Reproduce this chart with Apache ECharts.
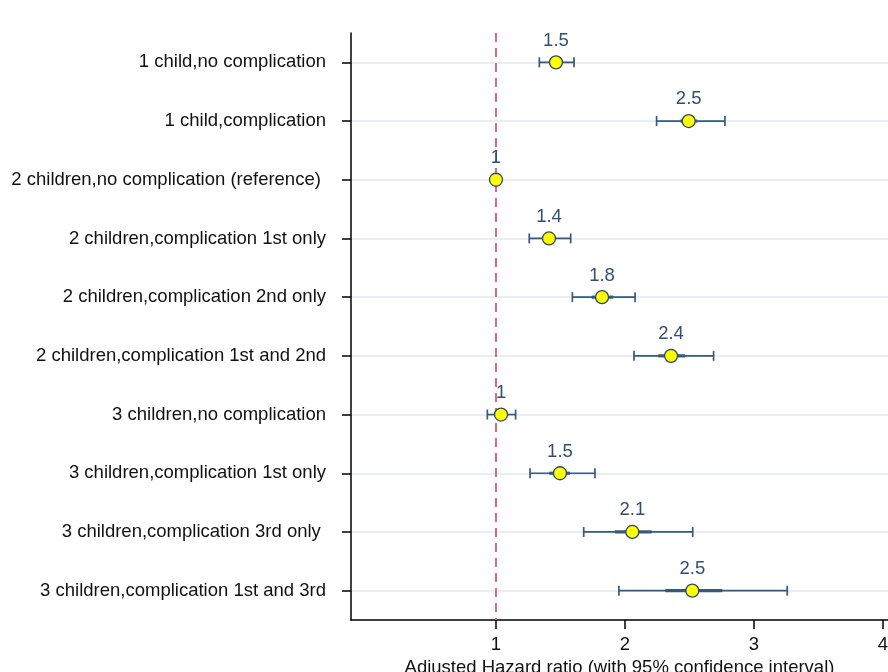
<!DOCTYPE html>
<html>
<head>
<meta charset="utf-8">
<script src="https://cdn.jsdelivr.net/npm/echarts@6/dist/echarts.min.js"></script>
<style>
html,body{margin:0;padding:0;background:#fff;}
#chart{width:888px;height:672px;}
</style>
</head>
<body>
<div id="chart"></div>
<script>
// ---- data ----
var categories = [
  '1 child,no complication',
  '1 child,complication',
  '2 children,no complication (reference) ',
  '2 children,complication 1st only',
  '2 children,complication 2nd only',
  '2 children,complication 1st and 2nd',
  '3 children,no complication',
  '3 children,complication 1st only',
  '3 children,complication 3rd only ',
  '3 children,complication 1st and 3rd'
];
var hr      = [1.465, 2.494, 1.000, 1.411, 1.822, 2.357, 1.039, 1.496, 2.057, 2.522];
var ciLow   = [1.336, 2.245, null,  1.258, 1.592, 2.070, 0.933, 1.264, 1.680, 1.953];
var ciHigh  = [1.605, 2.775, null,  1.579, 2.078, 2.687, 1.152, 1.767, 2.525, 3.258];
var innerLow  = [1.430, 2.430, null, 1.370, 1.742, 2.258, 1.010, 1.413, 1.922, 2.312];
var innerHigh = [1.500, 2.560, null, 1.450, 1.909, 2.465, 1.070, 1.574, 2.207, 2.754];
var pointLabels = ['1.5', '2.5', '1', '1.4', '1.8', '2.4', '1', '1.5', '2.1', '2.5'];
var xTicks = [1, 2, 3, 4];
var referenceValue = 1;

var FONT = 'Liberation Sans, Arial, sans-serif';
var NAVY = '#355a7e';

var chart = echarts.init(document.getElementById('chart'), null, {renderer: 'canvas'});

var barData = [];
var ptData = [];
for (var i = 0; i < categories.length; i++) {
  if (ciLow[i] != null) barData.push([ciLow[i], ciHigh[i], innerLow[i], innerHigh[i], i]);
  ptData.push([hr[i], i]);
}

var option = {
  backgroundColor: '#ffffff',
  animation: false,
  grid: {left: 351, right: 0, top: 33, bottom: 52, containLabel: false, outerBoundsMode: 'none'},
  xAxis: {
    type: 'value',
    min: -0.124,
    max: 4.039,
    name: 'Adjusted Hazard ratio (with 95% confidence interval)',
    nameLocation: 'middle',
    nameGap: 37,
    nameTextStyle: {fontFamily: FONT, fontSize: 18.5, color: '#111'},
    axisLine: {show: true, onZero: false, lineStyle: {color: '#000', width: 1.5}},
    axisTick: {show: true, customValues: xTicks, length: 9, lineStyle: {color: '#000', width: 1.5}},
    axisLabel: {show: true, customValues: xTicks, margin: 15, fontFamily: FONT, fontSize: 18.5, color: '#111'},
    splitLine: {show: false}
  },
  yAxis: {
    type: 'category',
    data: categories,
    inverse: true,
    boundaryGap: true,
    axisLine: {show: true, onZero: false, lineStyle: {color: '#000', width: 1.5}},
    axisTick: {show: true, alignWithLabel: true, length: 9, lineStyle: {color: '#000', width: 1.5}},
    axisLabel: {margin: 25, fontFamily: FONT, fontSize: 18.5, color: '#111'},
    splitLine: {show: false}
  },
  series: [
    {
      // horizontal gridlines at each category
      type: 'line',
      data: [],
      silent: true,
      z: 0,
      markLine: {
        silent: true,
        z: 0,
        symbol: 'none',
        label: {show: false},
        lineStyle: {color: '#e8eef2', width: 2, type: 'solid'},
        data: categories.map(function (c) { return {yAxis: c}; })
      }
    },
    {
      // reference dashed line
      type: 'line',
      data: [],
      silent: true,
      z: 1,
      markLine: {
        silent: true,
        z: 1,
        symbol: 'none',
        label: {show: false},
        lineStyle: {color: '#d6587a', width: 1.8, type: [9, 6]},
        data: [{xAxis: referenceValue}]
      }
    },
    {
      type: 'custom',
      data: barData,
      silent: true,
      z: 10,
      renderItem: function (params, api) {
        var y = api.value(4);
        var p1 = api.coord([api.value(0), y]);
        var p2 = api.coord([api.value(1), y]);
        var q1 = api.coord([api.value(2), y]);
        var q2 = api.coord([api.value(3), y]);
        var cap = 5;
        var st = {stroke: NAVY, lineWidth: 1.7, fill: null};
        return {
          type: 'group',
          children: [
            {type: 'line', shape: {x1: p1[0], y1: p1[1], x2: p2[0], y2: p2[1]}, style: st},
            {type: 'line', shape: {x1: p1[0], y1: p1[1] - cap, x2: p1[0], y2: p1[1] + cap}, style: st},
            {type: 'line', shape: {x1: p2[0], y1: p2[1] - cap, x2: p2[0], y2: p2[1] + cap}, style: st},
            {type: 'line', shape: {x1: q1[0], y1: q1[1], x2: q2[0], y2: q2[1]}, style: {stroke: NAVY, lineWidth: 3.2, fill: null}}
          ]
        };
      }
    },
    {
      type: 'scatter',
      data: ptData,
      z: 12,
      symbol: 'circle',
      symbolSize: 13,
      itemStyle: {color: '#ffff00', borderColor: '#2d4a66', borderWidth: 1.3, opacity: 1},
      label: {
        show: true,
        position: 'top',
        distance: 5,
        fontFamily: FONT,
        fontSize: 18.5,
        color: '#2f4f73',
        formatter: function (p) { return pointLabels[p.dataIndex]; }
      },
      emphasis: {disabled: true}
    }
  ]
};
chart.setOption(option);
</script>
</body>
</html>
